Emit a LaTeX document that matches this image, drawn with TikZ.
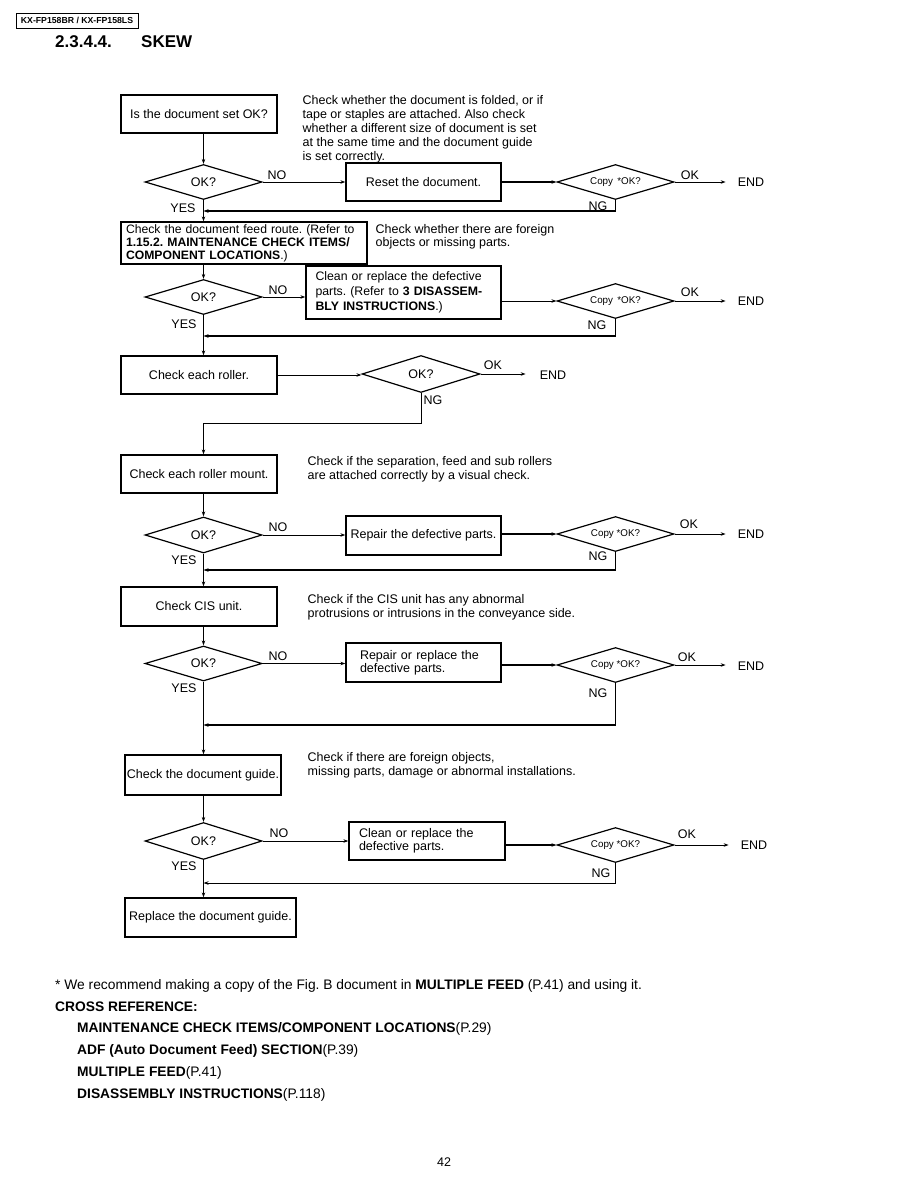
\documentclass[tikz,border=0pt]{standalone}
\usepackage{fontspec}
\setmainfont{Liberation Sans}
\usetikzlibrary{shapes.geometric,arrows.meta}
\begin{document}
\frenchspacing
\begin{tikzpicture}[x=1pt,y=-1pt,
  every node/.style={font=\fontsize{12.5}{14}\selectfont},
  box/.style={draw, line width=1.3pt, rectangle, inner sep=0pt, minimum width=156pt},
  dia/.style={draw, diamond, line width=1.2pt, inner sep=0pt, aspect=3.3, minimum width=117pt, minimum height=35pt},
  cdia/.style={dia, font=\fontsize{9.8}{11}\selectfont},
  note/.style={anchor=north west, align=left, inner sep=0pt},
  lbl/.style={inner sep=0pt},
  arr/.style={-{Stealth[length=5pt,width=3.5pt]}, line width=1pt},
  tarr/.style={arr, line width=1.4pt},
  endarr/.style={arr, shorten >=12pt},
  foot/.style={anchor=west, inner sep=0pt, font=\fontsize{13.8}{16}\selectfont},
  ]
\useasboundingbox (0,0) rectangle (918,1188);
\fill[white] (0,0) rectangle (918,1188);

% header
\node[draw, line width=0.8pt, inner sep=0pt, minimum width=122pt, minimum height=15pt,
  font=\bfseries\fontsize{8.7}{10}\selectfont] (hdr) at (77,20.5) {KX-FP158BR / KX-FP158LS};
\node[anchor=west, inner sep=0pt, font=\bfseries\fontsize{17}{20}\selectfont] (t1) at (55,42) {2.3.4.4.};
\node[anchor=west, inner sep=0pt, font=\bfseries\fontsize{17}{20}\selectfont] (t2) at (141,42) {SKEW};

% ---------- row 1
\node[box, minimum height=38pt] (b1) at (199,114) {Is the document set OK?};
\node[note] (n1) at (302.5,95) {Check whether the document is folded, or if\\tape or staples are attached. Also check\\whether a different size of document is set\\at the same time and the document guide\\is set correctly.};
\node[dia] (d1) at (203.5,182) {OK?};
\node[box, minimum width=155pt, minimum height=38pt] (r1) at (423.5,182) {Reset the document.};
\node[cdia] (c1) at (615.5,182) {Copy \,*OK?};
\node[lbl] (e1) at (751,182) {END};
\node[lbl] (no1) at (277,175) {NO};
\node[lbl] (ok1) at (690,175) {OK};
\node[lbl] (ng1) at (598,206) {NG};
\node[lbl] (y1) at (183,208) {YES};
\coordinate (j1) at (203.5,211);

\draw[arr] (d1.north |- b1.south) -- (d1.north);
\draw[arr] (d1.east) -- (r1.west);
\draw[tarr] (r1.east) -- (c1.west);
\draw[endarr] (c1.east) -- (c1.east -| e1.west);
\draw[tarr] (c1.south) |- (j1);

% ---------- row 2
\node[box, text width=236pt, inner xsep=5pt, minimum width=246pt, minimum height=42pt, align=left,
  font=\fontsize{12.2}{13}\selectfont] (b2) at (244,243) {Check the document feed route. (Refer to\\\textbf{1.15.2. MAINTENANCE CHECK ITEMS/}\\\textbf{COMPONENT LOCATIONS}.)};
\node[note, font=\fontsize{12.5}{13}\selectfont] (n2) at (375.5,224) {Check whether there are foreign\\objects or missing parts.};
\node[dia] (d2) at (203.5,297) {OK?};
\node[box, text width=176pt, inner xsep=9.5pt, minimum width=195pt, minimum height=53pt, align=left,
  font=\fontsize{12.3}{15}\selectfont] (r2) at (403.5,292.5) {Clean or replace the defective\\parts. (Refer to \textbf{3 DISASSEM-}\\\textbf{BLY INSTRUCTIONS}.)};
\node[cdia] (c2) at (615.5,301) {Copy \,*OK?};
\node[lbl] (e2) at (751,301) {END};
\node[lbl] (no2) at (278,290) {NO};
\node[lbl] (ok2) at (690,292) {OK};
\node[lbl] (ng2) at (597,325) {NG};
\node[lbl] (y2) at (184,324) {YES};
\coordinate (j2) at (203.5,336);

\draw[arr] (d1.south) -- (d1.south |- b2.north);
\draw[arr] (d2.north |- b2.south) -- (d2.north);
\draw[arr] (d2.east) -- (d2.east -| r2.west);
\draw[arr] (r2.east |- c2.west) -- (c2.west);
\draw[endarr] (c2.east) -- (c2.east -| e2.west);
\draw[tarr] (c2.south) |- (j2);

% ---------- row 3
\node[box, minimum height=38pt] (b3) at (199,375) {Check each roller.};
\node[dia, minimum width=118pt, minimum height=37pt] (d3) at (421,374) {OK?};
\node[lbl] (e3) at (553,375) {END};
\node[lbl] (ok3) at (493,365) {OK};
\node[lbl] (ng3) at (433,400) {NG};
\coordinate (j3) at (203.5,423);

\draw[arr] (d2.south) -- (d2.south |- b3.north);
\draw[arr] (b3.east) -- (b3.east -| d3.west);
\draw[arr, shorten >=14pt] (d3.east) -- (d3.east -| e3.west);

% ---------- row 4
\node[box, minimum height=38pt] (b4) at (199,474) {Check each roller mount.};
\node[note] (n4) at (307.5,456) {Check if the separation, feed and sub rollers\\are attached correctly by a visual check.};
\node[dia, minimum height=36pt] (d4) at (203.5,535) {OK?};
\node[box, minimum width=155pt, minimum height=39pt] (r4) at (423.5,535.5) {Repair the defective parts.};
\node[cdia] (c4) at (615.5,534) {Copy *OK?};
\node[lbl] (e4) at (751,534) {END};
\node[lbl] (no4) at (278,527) {NO};
\node[lbl] (ok4) at (689,524) {OK};
\node[lbl] (ng4) at (598,556) {NG};
\node[lbl] (y4) at (184,560) {YES};
\coordinate (j4) at (203.5,570);

\draw[arr] (d3.south) |- (j3) -- (j3 |- b4.north);
\draw[arr] (d4.north |- b4.south) -- (d4.north);
\draw[arr] (d4.east) -- (d4.east -| r4.west);
\draw[tarr] (r4.east |- c4.west) -- (c4.west);
\draw[endarr] (c4.east) -- (c4.east -| e4.west);
\draw[tarr] (c4.south) |- (j4);

% ---------- row 5
\node[box, minimum height=39pt] (b5) at (199,606.5) {Check CIS unit.};
\node[note] (n5) at (307.5,594) {Check if the CIS unit has any abnormal\\protrusions or intrusions in the conveyance side.};
\node[dia] (d5) at (203.5,663.5) {OK?};
\node[box, text width=127pt, inner xsep=14pt, minimum width=155pt, minimum height=39pt, align=left,
  font=\fontsize{12.5}{13}\selectfont] (r5) at (423.5,662.5) {Repair or replace the\\defective parts.};
\node[cdia] (c5) at (615.5,665) {Copy *OK?};
\node[lbl] (e5) at (751,666) {END};
\node[lbl] (no5) at (278,656) {NO};
\node[lbl] (ok5) at (687,657) {OK};
\node[lbl] (ng5) at (598,693) {NG};
\node[lbl] (y5) at (184,688) {YES};
\coordinate (j5) at (203.5,725);

\draw[arr] (d4.south) -- (d4.south |- b5.north);
\draw[arr] (d5.north |- b5.south) -- (d5.north);
\draw[arr] (d5.east) -- (d5.east -| r5.west);
\draw[tarr] (r5.east |- c5.west) -- (c5.west);
\draw[endarr] (c5.east) -- (c5.east -| e5.west);
\draw[tarr] (c5.south) |- (j5);

% ---------- row 6
\node[box, minimum height=40pt] (b6) at (203,775) {Check the document guide.};
\node[note] (n6) at (307.5,752) {Check if there are foreign objects,\\missing parts, damage or abnormal installations.};
\node[dia, minimum height=37pt] (d6) at (203.5,841) {OK?};
\node[box, text width=136pt, inner xsep=10pt, minimum width=156pt, minimum height=38pt, align=left,
  font=\fontsize{12.5}{13}\selectfont] (r6) at (427,841) {Clean or replace the\\defective parts.};
\node[cdia] (c6) at (615.5,845) {Copy *OK?};
\node[lbl] (e6) at (754,845) {END};
\node[lbl] (no6) at (279,833) {NO};
\node[lbl] (ok6) at (687,834) {OK};
\node[lbl] (ng6) at (601,873) {NG};
\node[lbl] (y6) at (184,866) {YES};
\coordinate (j6) at (203.5,883);
\node[box, minimum width=171pt, minimum height=39pt] (b7) at (210.5,917.5) {Replace the document guide.};

\draw[arr] (d5.south) -- (d5.south |- b6.north);
\draw[arr] (d6.north |- b6.south) -- (d6.north);
\draw[arr] (d6.east) -- (d6.east -| r6.west);
\draw[tarr] (r6.east |- c6.west) -- (c6.west);
\draw[endarr] (c6.east) -- (c6.east -| e6.west);
\draw[arr] (c6.south) |- (j6);
\draw[arr] (d6.south) -- (d6.south |- b7.north);

% ---------- footer
\node[foot] (f1) at (55,986) {* We recommend making a copy of the Fig. B document in \textbf{MULTIPLE FEED} (P.41) and using it.};
\node[foot] (f2) at (55,1007) {\textbf{CROSS REFERENCE:}};
\node[foot] (f3) at (77,1029) {\textbf{MAINTENANCE CHECK ITEMS/COMPONENT LOCATIONS}(P.29)};
\node[foot] (f4) at (77,1051) {\textbf{ADF (Auto Document Feed) SECTION}(P.39)};
\node[foot] (f5) at (77,1073) {\textbf{MULTIPLE FEED}(P.41)};
\node[foot] (f6) at (77,1095) {\textbf{DISASSEMBLY INSTRUCTIONS}(P.118)};
\node[inner sep=0pt] (pg) at (444,1162) {42};
\end{tikzpicture}
\end{document}
